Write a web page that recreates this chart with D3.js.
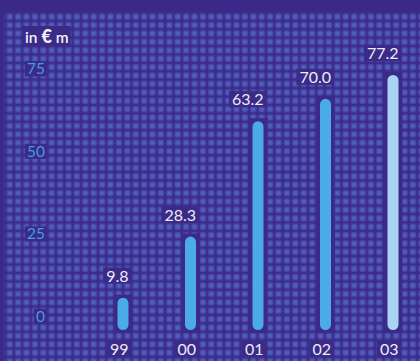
<!DOCTYPE html>
<html><head><meta charset="utf-8">
<script src="https://cdn.jsdelivr.net/npm/d3@7/dist/d3.min.js"></script>
<style>html,body{margin:0;padding:0;background:#3a2986;overflow:hidden}</style>
</head><body>
<script>
const categories = ["99","00","01","02","03"];
const values = [9.8, 28.3, 63.2, 70.0, 77.2];
const valueLabels = ["9.8","28.3","63.2","70.0","77.2"];
const yTicks = [0, 25, 50, 75];
const unitLabel = ["in ", "€", " m"];

const W = 420, H = 361;
const svg = d3.select("body").append("svg").attr("width", W).attr("height", H);
const defs = svg.append("defs");
const pat = defs.append("pattern").attr("id","dots").attr("patternUnits","userSpaceOnUse")
  .attr("x",5.5).attr("y",12.5).attr("width",8.4).attr("height",8.4);
pat.append("rect").attr("width",8.4).attr("height",8.4).attr("fill","#3c2b89");
pat.append("rect").attr("x",0.7).attr("y",0.7).attr("width",7).attr("height",7).attr("rx",2).attr("fill","#433fa0");
pat.append("rect").attr("x",1.6).attr("y",1.6).attr("width",5.2).attr("height",5.2).attr("rx",1.5).attr("fill","#4a51b0");
pat.append("rect").attr("x",2.6).attr("y",2.6).attr("width",3.2).attr("height",3.2).attr("rx",1).attr("fill","#525fba");

svg.append("rect").attr("width",W).attr("height",H).attr("fill","#3a2986");
svg.append("rect").attr("x",4).attr("y",12).attr("width",W-4).attr("height",H-12).attr("fill","url(#dots)");

const x = d3.scalePoint().domain(categories).range([123, 393]);
const y = d3.scaleLinear().domain([0, 77.2]).range([330, 75]);
const bw = 11;
const boxFill = "#3b2a87";
const fontFam = "Lato, 'Open Sans', sans-serif";

// y axis labels
const ya = svg.append("g");
yTicks.forEach(t => {
  const g = ya.append("g");
  const txt = g.append("text").attr("x",45).attr("y",y(t)-8).attr("text-anchor","end")
    .attr("font-family",fontFam).attr("font-size",15.5).attr("fill","#3f9de0").text(t);
  const b = txt.node().getBBox();
  g.insert("rect","text").attr("x",b.x-2).attr("y",b.y+2).attr("width",b.width+4).attr("height",b.height-3).attr("fill",boxFill);
});

// unit label
const ug = svg.append("g");
const ut = ug.append("text").attr("x",25).attr("y",43).attr("font-family","Lato, sans-serif")
  .attr("font-size",15).attr("fill","#f2f2f8");
ut.selectAll("tspan").data(unitLabel).join("tspan").text(d=>d)
  .attr("font-weight",(d,i)=> i===1 ? 900 : 600).attr("font-size",(d,i)=> i===1 ? 18 : 15.5);
{ const b = ut.node().getBBox();
  ug.insert("rect","text").attr("x",b.x-2).attr("y",b.y+1).attr("width",b.width+4).attr("height",b.height-2).attr("fill",boxFill); }

// bars
const bars = svg.append("g");
categories.forEach((c,i) => {
  const cx = x(c);
  const top = y(values[i]);
  bars.append("rect").attr("x",cx-bw/2-4).attr("y",top-3).attr("width",bw+8).attr("height",330-top+6).attr("fill",boxFill);
  bars.append("rect").attr("x",cx-bw/2).attr("y",top).attr("width",bw).attr("height",330-top)
    .attr("rx",bw/2).attr("fill", i===categories.length-1 ? "#a9d3f2" : "#4aabe8");
  // value label
  const g = svg.append("g");
  const t = g.append("text").attr("x",cx+bw/2).attr("y",top-16).attr("text-anchor","end")
    .attr("font-family",fontFam).attr("font-size",16).attr("fill","#ececf4").text(valueLabels[i]);
  const b = t.node().getBBox();
  g.insert("rect","text").attr("x",b.x-3).attr("y",b.y+2).attr("width",b.width+6).attr("height",b.height-3).attr("fill",boxFill);
  // category label
  const g2 = svg.append("g");
  const t2 = g2.append("text").attr("x",cx+bw/2).attr("y",355).attr("text-anchor","end")
    .attr("font-family",fontFam).attr("font-size",16).attr("fill","#ececf4").text(c);
  const b2 = t2.node().getBBox();
  g2.insert("rect","text").attr("x",b2.x-3).attr("y",b2.y+2).attr("width",b2.width+6).attr("height",b2.height-3).attr("fill",boxFill);
});
</script>
</body></html>
